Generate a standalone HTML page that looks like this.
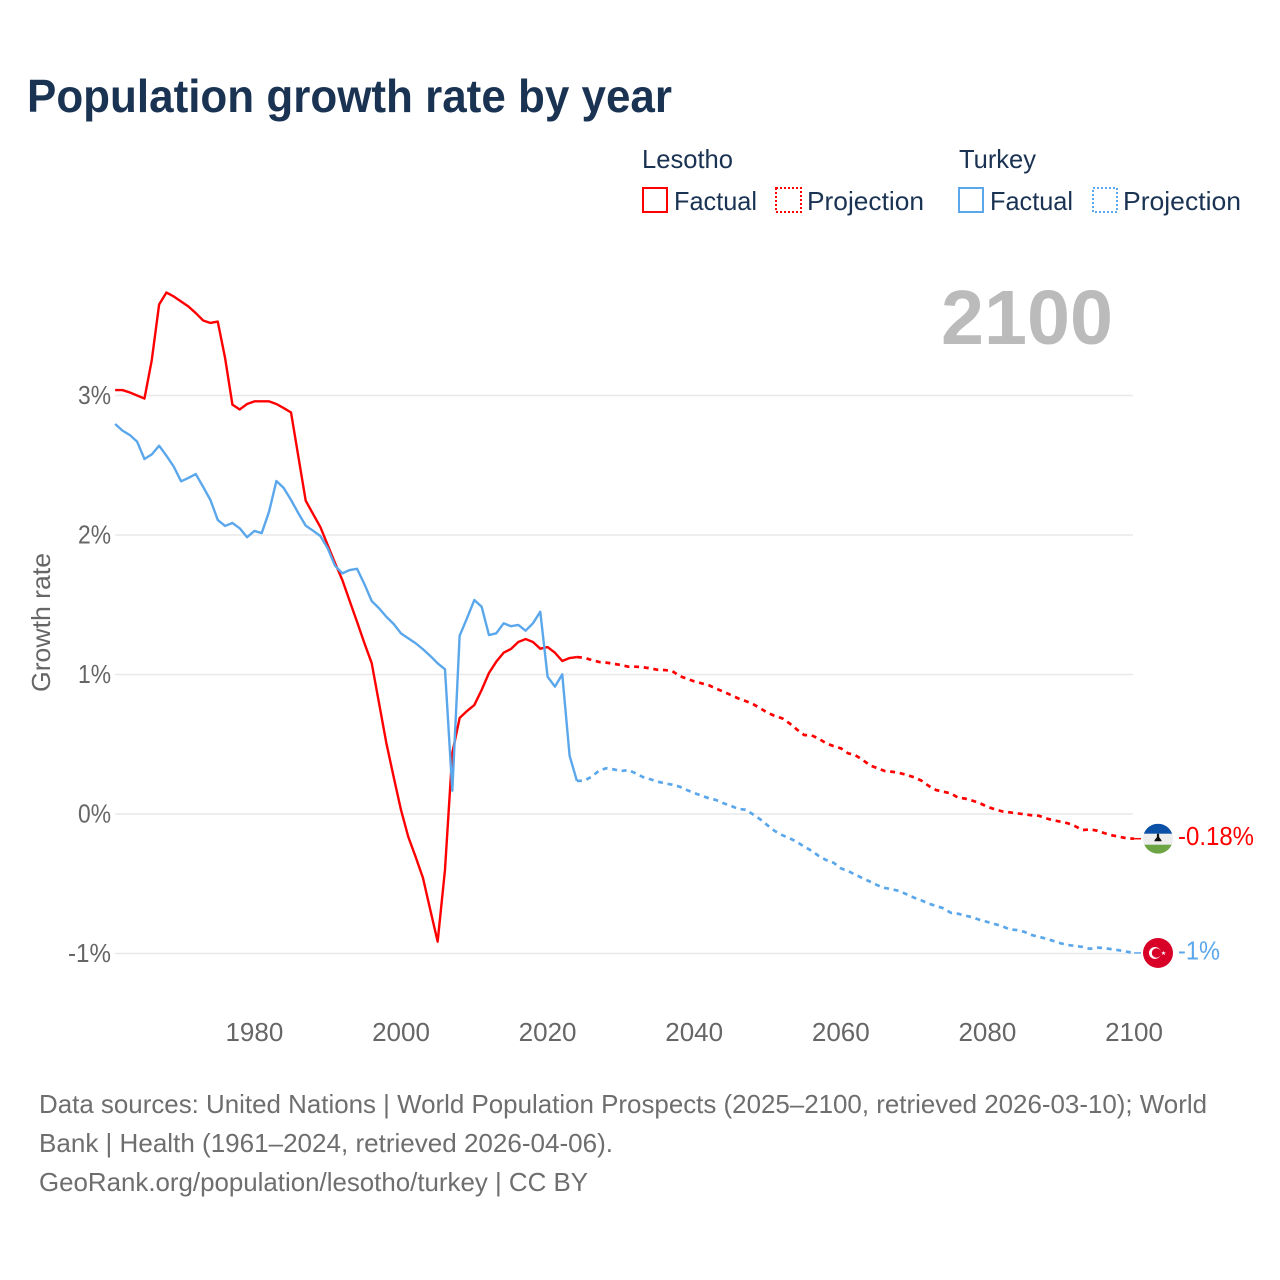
<!DOCTYPE html>
<html lang="en">
<head>
<meta charset="utf-8">
<title>Population growth rate by year</title>
<style>
  html, body { margin: 0; padding: 0; background: #fff; }
  svg { display: block; font-family: "Liberation Sans", sans-serif; }
</style>
</head>
<body>
<svg id="chart" xmlns="http://www.w3.org/2000/svg" width="1280" height="1280" viewBox="0 0 1280 1280">
  <rect width="1280" height="1280" fill="#ffffff"/>
  <text x="27" y="112" font-size="46" font-weight="700" fill="#1a3353" textLength="645" lengthAdjust="spacingAndGlyphs">Population growth rate by year</text>

  <g font-size="26" fill="#1a3353">
    <text x="642" y="168" textLength="91" lengthAdjust="spacingAndGlyphs">Lesotho</text>
    <text x="959" y="168" textLength="77" lengthAdjust="spacingAndGlyphs">Turkey</text>
    <g>
      <rect x="643" y="188" width="24" height="24" fill="none" stroke="#ff0000" stroke-width="2"/>
      <text x="674" y="210" textLength="83" lengthAdjust="spacingAndGlyphs">Factual</text>
    </g>
    <g>
      <rect x="776" y="188" width="25" height="24" fill="none" stroke="#ff0000" stroke-width="2" stroke-dasharray="2 2"/>
      <text x="807" y="210" textLength="117" lengthAdjust="spacingAndGlyphs">Projection</text>
    </g>
    <g>
      <rect x="959" y="188" width="24" height="24" fill="none" stroke="#5ba7eb" stroke-width="2"/>
      <text x="990" y="210" textLength="83" lengthAdjust="spacingAndGlyphs">Factual</text>
    </g>
    <g>
      <rect x="1093" y="188" width="24" height="24" fill="none" stroke="#5ba7eb" stroke-width="2" stroke-dasharray="2 2"/>
      <text x="1123" y="210" textLength="118" lengthAdjust="spacingAndGlyphs">Projection</text>
    </g>
  </g>

  <text x="941" y="344" font-size="77" font-weight="700" fill="#bbbbbb" textLength="172" lengthAdjust="spacingAndGlyphs">2100</text>

  <g id="grid"></g>
  <g id="y-ticks" font-size="26" fill="#666666" text-anchor="end"></g>
  <g id="x-ticks" font-size="26" fill="#666666" text-anchor="middle"></g>
  <text transform="translate(50,692) rotate(-90)" font-size="26" fill="#666666" textLength="139" lengthAdjust="spacingAndGlyphs">Growth rate</text>
  <g id="lines" fill="none" stroke-linejoin="round"></g>
  <g id="end-markers"></g>

  <g font-size="26" fill="#6e6e6e">
    <text x="39" y="1113" textLength="1168" lengthAdjust="spacingAndGlyphs">Data sources: United Nations | World Population Prospects (2025–2100, retrieved 2026-03-10); World</text>
    <text x="39" y="1152" textLength="574" lengthAdjust="spacingAndGlyphs">Bank | Health (1961–2024, retrieved 2026-04-06).</text>
    <text x="39" y="1191" textLength="549" lengthAdjust="spacingAndGlyphs">GeoRank.org/population/lesotho/turkey | CC BY</text>
  </g>
</svg>
<script>
const factualStartYear = 1961;
const projectionStartYear = 2024;
const yTickValues = [3, 2, 1, 0, -1];
const yTickLabels = ['3%', '2%', '1%', '0%', '-1%'];
const xTickYears = [1980, 2000, 2020, 2040, 2060, 2080, 2100];
const lesothoFactual = [3.039,3.039,3.022,3.000,2.978,3.254,3.652,3.738,3.710,3.674,3.638,3.591,3.538,3.520,3.530,3.269,2.935,2.900,2.939,2.958,2.958,2.958,2.939,2.910,2.878,2.561,2.246,2.151,2.057,1.928,1.799,1.677,1.527,1.378,1.226,1.082,0.796,0.509,0.265,0.029,-0.165,-0.308,-0.459,-0.688,-0.915,-0.401,0.437,0.688,0.738,0.781,0.889,1.011,1.092,1.156,1.183,1.233,1.254,1.233,1.185,1.197,1.156,1.097,1.118,1.125];
const lesothoProjection = [1.125,1.120,1.104,1.090,1.085,1.077,1.068,1.056,1.056,1.052,1.044,1.034,1.032,1.025,0.989,0.970,0.951,0.937,0.923,0.898,0.877,0.853,0.829,0.810,0.789,0.758,0.726,0.703,0.686,0.650,0.606,0.566,0.564,0.540,0.507,0.487,0.471,0.435,0.421,0.387,0.348,0.328,0.308,0.303,0.294,0.280,0.263,0.239,0.201,0.172,0.160,0.148,0.117,0.110,0.095,0.077,0.052,0.034,0.019,0.012,0.005,-0.002,-0.009,-0.012,-0.031,-0.045,-0.055,-0.067,-0.088,-0.115,-0.110,-0.120,-0.138,-0.153,-0.163,-0.174,-0.177];
const turkeyFactual = [2.796,2.748,2.717,2.669,2.545,2.578,2.640,2.568,2.490,2.385,2.409,2.437,2.346,2.251,2.108,2.065,2.086,2.048,1.984,2.029,2.014,2.167,2.387,2.337,2.251,2.156,2.067,2.031,1.993,1.905,1.780,1.725,1.749,1.758,1.649,1.527,1.475,1.414,1.362,1.295,1.259,1.224,1.181,1.133,1.080,1.037,0.167,1.278,1.403,1.534,1.486,1.283,1.295,1.367,1.346,1.355,1.314,1.367,1.450,0.984,0.913,1.001,0.418,0.237];
const turkeyProjection = [0.237,0.239,0.267,0.310,0.328,0.320,0.308,0.315,0.292,0.265,0.249,0.232,0.220,0.210,0.196,0.172,0.151,0.131,0.113,0.100,0.077,0.059,0.036,0.031,-0.002,-0.038,-0.081,-0.122,-0.151,-0.174,-0.199,-0.234,-0.263,-0.301,-0.330,-0.349,-0.389,-0.409,-0.435,-0.461,-0.485,-0.511,-0.530,-0.540,-0.552,-0.576,-0.600,-0.619,-0.643,-0.659,-0.676,-0.708,-0.715,-0.729,-0.741,-0.760,-0.774,-0.789,-0.803,-0.827,-0.832,-0.844,-0.867,-0.880,-0.894,-0.910,-0.927,-0.939,-0.946,-0.953,-0.966,-0.958,-0.961,-0.970,-0.977,-0.987,-0.996];
const lesothoEndLabel = '-0.18%';
const turkeyEndLabel = '-1%';

const RED = '#ff0000';
const BLUE = '#5ba7eb';
const NS = 'http://www.w3.org/2000/svg';
const xScale = year => 1134 - (2100 - year) * 7.33;
const yScale = value => 814 - value * 139.5;
const make = (tag, parent) => parent.appendChild(document.createElementNS(NS, tag));
const linePath = (values, startYear) => values.map((v, i) =>
  (i ? 'L' : 'M') + xScale(startYear + i).toFixed(2) + ' ' + yScale(v).toFixed(2)).join('');

const grid = document.getElementById('grid');
const yTicks = document.getElementById('y-ticks');
const xTicks = document.getElementById('x-ticks');
const lines = document.getElementById('lines');
const markers = document.getElementById('end-markers');

yTickValues.forEach((value, i) => {
  const line = make('line', grid);
  
  
  line.setAttribute('x1', xScale(factualStartYear));
  line.setAttribute('x2', xScale(2100) - 1);
  line.setAttribute('y1', yScale(value));
  line.setAttribute('y2', yScale(value));
  line.setAttribute('stroke', '#e8e8e8');
  line.setAttribute('stroke-width', '1.5');
  const label = make('text', yTicks);
  
  
  label.setAttribute('x', 111);
  label.setAttribute('y', yScale(value) + 8.5);
  label.setAttribute('textLength', yTickLabels[i].length * 10 + 13);
  label.setAttribute('lengthAdjust', 'spacingAndGlyphs');
  label.textContent = yTickLabels[i];
});

xTickYears.forEach(year => {
  const label = make('text', xTicks);
  
  
  label.setAttribute('x', xScale(year));
  label.setAttribute('y', 1041);
  label.textContent = String(year);
});

function drawSeries(name, values, startYear, colour, dashed) {
  const path = make('path', lines);
  
  
  path.setAttribute('d', linePath(values, startYear));
  path.setAttribute('stroke', colour);
  path.setAttribute('stroke-width', dashed ? '2.7' : '2.4');
  if (dashed) path.setAttribute('stroke-dasharray', '5 4.7');
}
drawSeries('line-lesotho-factual', lesothoFactual, factualStartYear, RED, false);
drawSeries('line-turkey-factual', turkeyFactual, factualStartYear, BLUE, false);
drawSeries('line-lesotho-projection', lesothoProjection, projectionStartYear, RED, true);
drawSeries('line-turkey-projection', turkeyProjection, projectionStartYear, BLUE, true);

function drawEnd(prefix, values, colour, text, labelWidth) {
  const cy = yScale(values[values.length - 1]);
  const connector = make('line', markers);
  
  
  connector.setAttribute('x1', xScale(2100));
  connector.setAttribute('x2', 1141);
  connector.setAttribute('y1', cy);
  connector.setAttribute('y2', cy);
  connector.setAttribute('stroke', colour);
  connector.setAttribute('stroke-width', '1.5');
  const label = make('text', markers);
  
  
  label.setAttribute('x', 1178);
  label.setAttribute('y', cy + 6.5);
  label.setAttribute('font-size', '26');
  label.setAttribute('fill', colour);
  label.setAttribute('textLength', labelWidth);
  label.setAttribute('lengthAdjust', 'spacingAndGlyphs');
  label.textContent = text;
  return cy;
}

function shape(tag, parent, attrs) {
  const el = make(tag, parent);
  Object.keys(attrs).forEach(k => el.setAttribute(k, attrs[k]));
  return el;
}

const lesothoY = drawEnd('lesotho', lesothoProjection, RED, lesothoEndLabel, 76);
const lesothoFlag = make('g', markers);


lesothoFlag.setAttribute('transform', 'translate(1158,' + lesothoY + ')');
const defs = make('defs', lesothoFlag);
const clip = make('clipPath', defs);
clip.setAttribute('id', 'lesotho-clip');
shape('circle', clip, { r: 15 });
const bands = make('g', lesothoFlag);
bands.setAttribute('clip-path', 'url(#lesotho-clip)');
shape('rect', bands, { x: -15, y: -15, width: 30, height: 30, fill: '#eeeeee' });
shape('rect', bands, { x: -15, y: -15, width: 30, height: 10, fill: '#0a51a7' });
shape('rect', bands, { x: -15, y: 6, width: 30, height: 9, fill: '#6da544' });
shape('path', lesothoFlag, { d: 'M-1 -5H1L1.2 -1.5L3.5 1.5V2.5H-3.5V1.5L-1.2 -1.5Z', fill: '#111111' });

const turkeyY = drawEnd('turkey', turkeyProjection, BLUE, turkeyEndLabel, 42);
const turkeyFlag = make('g', markers);


turkeyFlag.setAttribute('transform', 'translate(1158,' + turkeyY + ')');
shape('circle', turkeyFlag, { r: 15, fill: '#d80027' });
shape('circle', turkeyFlag, { cx: -3, r: 6, fill: '#ffffff' });
shape('circle', turkeyFlag, { cx: -1.5, r: 4.7, fill: '#d80027' });
shape('polygon', turkeyFlag, { points: '5.5,-2.2 6.1,-0.6 7.8,-0.6 6.5,0.4 7,2 5.5,1.1 4,2 4.5,0.4 3.2,-0.6 4.9,-0.6', fill: '#ffffff' });
</script>
</body>
</html>
